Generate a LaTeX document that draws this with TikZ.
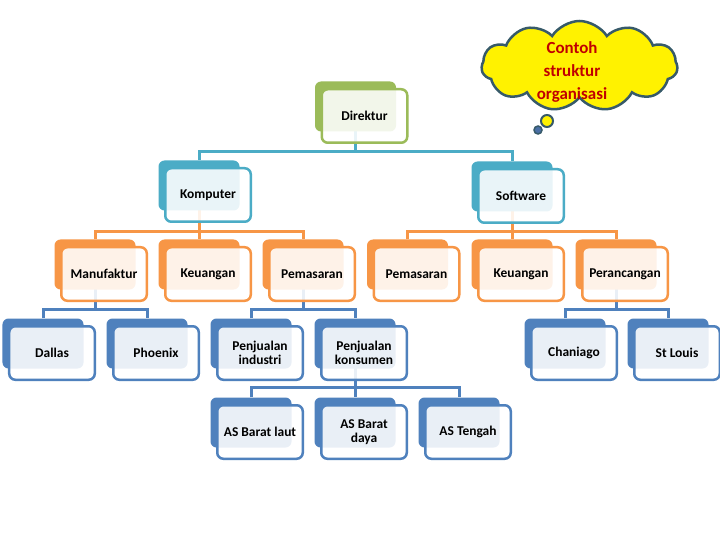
\documentclass[tikz,border=0pt]{standalone}
\usepackage{fontspec}
\setmainfont{Carlito}
\usetikzlibrary{shapes.symbols,backgrounds}
\definecolor{cGreen}{HTML}{9BBB59}
\definecolor{cTeal}{HTML}{4BACC6}
\definecolor{cOrange}{HTML}{F79646}
\definecolor{cBlue}{HTML}{4F81BD}
\definecolor{cloudLine}{RGB}{55,90,105}
\definecolor{cRed}{HTML}{C00000}
\definecolor{bubFill}{HTML}{4A6FA5}
\tikzset{
 backbox/.style={fill=#1, rounded corners=6bp, minimum width=81bp, minimum height=50bp, inner sep=0pt, draw=none},
 frontbox/.style={draw=#1, line width=2.5bp, fill=white, fill opacity=0.88, text opacity=1, rounded corners=6bp, minimum width=85.5bp, minimum height=53.5bp, inner sep=0pt, align=center, font=\bfseries\fontsize{13.5}{14.5}\selectfont},
 link/.style={draw=#1, line width=3bp},
}
\newcommand\orgbox[5]{%
 \node[backbox=#4] (#1B) at ({#2-9},{#3-9.5}) {};
 \node[frontbox=#4] (#1) at (#2,#3) {#5};
}
\begin{document}
\begin{tikzpicture}[x=1bp,y=-1bp]
\useasboundingbox (0,0) rectangle (720,540);
% level 0
\orgbox{dir}{364.5}{116}{cGreen}{Direktur}
% level 1
\orgbox{komp}{208}{195}{cTeal}{Komputer}
\orgbox{soft}{521}{196}{cTeal}{Software}
% level 2
\orgbox{man}{104}{274}{cOrange}{Manufaktur}
\orgbox{keu}{208}{274}{cOrange}{Keuangan}
\orgbox{pem}{312}{274}{cOrange}{Pemasaran}
\orgbox{pemb}{416.5}{274}{cOrange}{Pemasaran}
\orgbox{keub}{521}{274}{cOrange}{Keuangan}
\orgbox{per}{625}{274}{cOrange}{Perancangan}
% level 3
\orgbox{dal}{52}{353}{cBlue}{Dallas}
\orgbox{pho}{156}{353}{cBlue}{Phoenix}
\orgbox{pin}{260}{353}{cBlue}{Penjualan\\industri}
\orgbox{pko}{364}{353}{cBlue}{Penjualan\\konsumen}
\orgbox{cha}{574}{353}{cBlue}{Chaniago}
\orgbox{stl}{677}{353}{cBlue}{St Louis}
% level 4
\orgbox{asa}{260}{432}{cBlue}{AS Barat laut}
\orgbox{asd}{364}{432}{cBlue}{AS Barat\\daya}
\orgbox{ast}{468}{432}{cBlue}{AS Tengah}
% connectors
\begin{scope}[on background layer]
\fill[white] (0,0) rectangle (720,540);
\coordinate (bus0) at (dirB.center |- 0,152);
\draw[link=cTeal] (dirB.center) -- (bus0);
\draw[link=cTeal] (kompB.north) |- (bus0) -| (softB.north);
\coordinate (bus1) at (kompB.center |- 0,231.5);
\draw[link=cOrange] (kompB.center) -- (keuB.north);
\draw[link=cOrange] (manB.north) |- (bus1) -| (pemB.north);
\coordinate (bus2) at (softB.center |- 0,231.5);
\draw[link=cOrange] (softB.center) -- (keubB.north);
\draw[link=cOrange] (pembB.north) |- (bus2) -| (perB.north);
\coordinate (bus3) at (manB.center |- 0,309);
\draw[link=cBlue] (manB.center) -- (bus3);
\draw[link=cBlue] (dalB.north) |- (bus3) -| (phoB.north);
\coordinate (bus4) at (pemB.center |- 0,309);
\draw[link=cBlue] (pemB.center) -- (bus4);
\draw[link=cBlue] (pinB.north) |- (bus4) -| (pkoB.north);
\coordinate (bus5) at (perB.center |- 0,309);
\draw[link=cBlue] (perB.center) -- (bus5);
\draw[link=cBlue] (chaB.north) |- (bus5) -| (stlB.north);
\coordinate (bus6) at (pkoB.center |- 0,387);
\draw[link=cBlue] (pkoB.center) -- (asdB.north);
\draw[link=cBlue] (asaB.north) |- (bus6) -| (astB.north);
\end{scope}
% cloud
\node[cloud, cloud puffs=11, cloud puff arc=115, aspect=2.3, draw=cloudLine, fill=yellow, line width=2.5bp, minimum width=196bp, minimum height=90bp, inner sep=0pt] (cloud) at (579.5,66) {};
\node[font=\bfseries\fontsize{17}{23.5}\selectfont, text=cRed, align=center] (cloudtxt) at (572,72) {Contoh\\struktur\\organisasi};
\node[circle, draw=cloudLine, fill=yellow, line width=2bp, minimum size=12bp, inner sep=0pt] (bub1) at (547,121) {};
\node[circle, draw=cloudLine, fill=bubFill, line width=1.5bp, minimum size=8bp, inner sep=0pt] (bub2) at (538,130) {};
\end{tikzpicture}
\end{document}
